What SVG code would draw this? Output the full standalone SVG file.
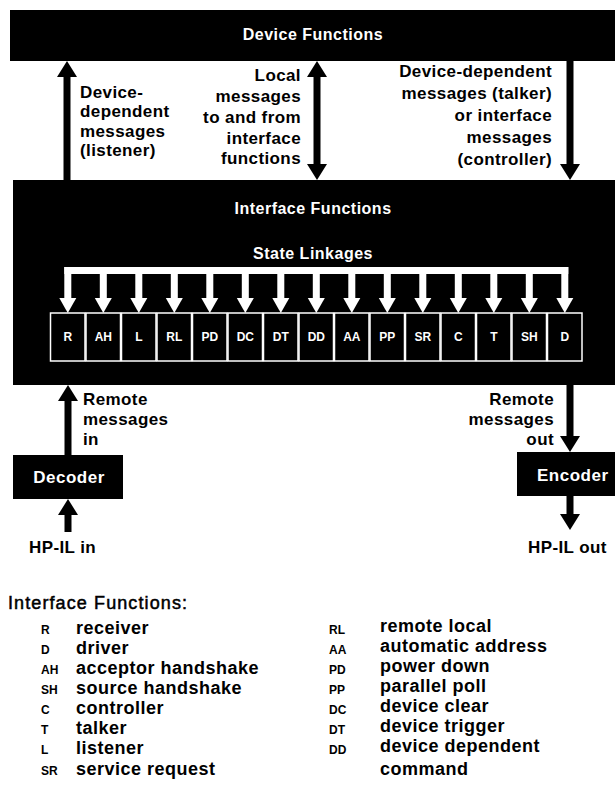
<svg xmlns="http://www.w3.org/2000/svg" width="615" height="811" viewBox="0 0 615 811">
<style>
text{font-family:"Liberation Sans",Arial,Helvetica,sans-serif;font-weight:bold}
.lbl{font-size:17px;fill:#000;letter-spacing:0.4px}
.title{font-size:16px;fill:#fff;letter-spacing:0.5px}
.btitle{font-size:17px;fill:#fff;letter-spacing:0.5px}
.box{fill:#000}
.fbox{fill:#000;stroke:#fff;stroke-width:1.5}
.ftxt{font-size:12px;fill:#fff;text-anchor:middle}
.shaft{stroke:#000;stroke-width:7;fill:none}
.wshaft{fill:#fff}
.abbr{font-size:12px;fill:#000}
.desc{font-size:18px;fill:#000;letter-spacing:0.5px}
.head{font-size:18px;fill:#000;letter-spacing:1.1px;font-weight:normal;stroke:#000;stroke-width:0.5}
.end{text-anchor:end}
.mid{text-anchor:middle}
</style>
<defs>
<marker id="ah" markerUnits="userSpaceOnUse" markerWidth="17" markerHeight="20" refX="8" refY="10" orient="auto-start-reverse" viewBox="0 0 17 20">
<path d="M0,0 L16,10 L0,20 z" fill="#000"/>
</marker>
<path id="wh" d="M-8.5,0 L8.5,0 L0,15 z" fill="#fff"/>
</defs>

<g id="device-functions">
<rect class="box" x="10" y="10" width="605" height="51"/>
<text class="title mid" x="313" y="40">Device Functions</text>
</g>

<g id="interface-functions">
<rect class="box" x="13" y="180" width="602" height="205"/>
<text class="title mid" x="313" y="214">Interface Functions</text>
<text class="title mid" x="313" y="259">State Linkages</text>
</g>

<g id="state-linkages">
<rect class="wshaft" x="64.3" y="267" width="504" height="7"/>
<rect class="wshaft" x="64.3" y="267" width="7" height="33"/>
<rect class="wshaft" x="99.8" y="267" width="7" height="33"/>
<rect class="wshaft" x="135.3" y="267" width="7" height="33"/>
<rect class="wshaft" x="170.8" y="267" width="7" height="33"/>
<rect class="wshaft" x="206.3" y="267" width="7" height="33"/>
<rect class="wshaft" x="241.8" y="267" width="7" height="33"/>
<rect class="wshaft" x="277.3" y="267" width="7" height="33"/>
<rect class="wshaft" x="312.8" y="267" width="7" height="33"/>
<rect class="wshaft" x="348.3" y="267" width="7" height="33"/>
<rect class="wshaft" x="383.8" y="267" width="7" height="33"/>
<rect class="wshaft" x="419.3" y="267" width="7" height="33"/>
<rect class="wshaft" x="454.8" y="267" width="7" height="33"/>
<rect class="wshaft" x="490.3" y="267" width="7" height="33"/>
<rect class="wshaft" x="525.8" y="267" width="7" height="33"/>
<rect class="wshaft" x="561.3" y="267" width="7" height="33"/>
<use href="#wh" x="67.8" y="298"/>
<use href="#wh" x="103.3" y="298"/>
<use href="#wh" x="138.8" y="298"/>
<use href="#wh" x="174.3" y="298"/>
<use href="#wh" x="209.8" y="298"/>
<use href="#wh" x="245.3" y="298"/>
<use href="#wh" x="280.8" y="298"/>
<use href="#wh" x="316.3" y="298"/>
<use href="#wh" x="351.8" y="298"/>
<use href="#wh" x="387.3" y="298"/>
<use href="#wh" x="422.8" y="298"/>
<use href="#wh" x="458.3" y="298"/>
<use href="#wh" x="493.8" y="298"/>
<use href="#wh" x="529.3" y="298"/>
<use href="#wh" x="564.8" y="298"/>
</g>

<g id="fn-R"><rect class="fbox" x="50.5" y="313" width="34.5" height="48"/><text class="ftxt" x="67.8" y="341">R</text></g>
<g id="fn-AH"><rect class="fbox" x="86" y="313" width="34.5" height="48"/><text class="ftxt" x="103.3" y="341">AH</text></g>
<g id="fn-L"><rect class="fbox" x="121.5" y="313" width="34.5" height="48"/><text class="ftxt" x="138.8" y="341">L</text></g>
<g id="fn-RL"><rect class="fbox" x="157" y="313" width="34.5" height="48"/><text class="ftxt" x="174.3" y="341">RL</text></g>
<g id="fn-PD"><rect class="fbox" x="192.5" y="313" width="34.5" height="48"/><text class="ftxt" x="209.8" y="341">PD</text></g>
<g id="fn-DC"><rect class="fbox" x="228" y="313" width="34.5" height="48"/><text class="ftxt" x="245.3" y="341">DC</text></g>
<g id="fn-DT"><rect class="fbox" x="263.5" y="313" width="34.5" height="48"/><text class="ftxt" x="280.8" y="341">DT</text></g>
<g id="fn-DD"><rect class="fbox" x="299" y="313" width="34.5" height="48"/><text class="ftxt" x="316.3" y="341">DD</text></g>
<g id="fn-AA"><rect class="fbox" x="334.5" y="313" width="34.5" height="48"/><text class="ftxt" x="351.8" y="341">AA</text></g>
<g id="fn-PP"><rect class="fbox" x="370" y="313" width="34.5" height="48"/><text class="ftxt" x="387.3" y="341">PP</text></g>
<g id="fn-SR"><rect class="fbox" x="405.5" y="313" width="34.5" height="48"/><text class="ftxt" x="422.8" y="341">SR</text></g>
<g id="fn-C"><rect class="fbox" x="441" y="313" width="34.5" height="48"/><text class="ftxt" x="458.3" y="341">C</text></g>
<g id="fn-T"><rect class="fbox" x="476.5" y="313" width="34.5" height="48"/><text class="ftxt" x="493.8" y="341">T</text></g>
<g id="fn-SH"><rect class="fbox" x="512" y="313" width="34.5" height="48"/><text class="ftxt" x="529.3" y="341">SH</text></g>
<g id="fn-D"><rect class="fbox" x="547.5" y="313" width="34.5" height="48"/><text class="ftxt" x="564.8" y="341">D</text></g>

<g id="decoder">
<rect class="box" x="13" y="455" width="110" height="44"/>
<text class="btitle mid" x="69" y="483">Decoder</text>
</g>

<g id="encoder">
<rect class="box" x="517" y="452" width="98" height="44"/>
<text class="btitle" x="537" y="481">Encoder</text>
</g>

<g id="connectors">
<line class="shaft" x1="67" y1="180" x2="67" y2="69" marker-end="url(#ah)"/>
<line class="shaft" x1="317" y1="172" x2="317" y2="69" marker-start="url(#ah)" marker-end="url(#ah)"/>
<line class="shaft" x1="570" y1="61" x2="570" y2="172" marker-end="url(#ah)"/>
<line class="shaft" x1="68" y1="455" x2="68" y2="393" marker-end="url(#ah)"/>
<line class="shaft" x1="570" y1="385" x2="570" y2="444" marker-end="url(#ah)"/>
<line class="shaft" x1="68" y1="532" x2="68" y2="507" marker-end="url(#ah)"/>
<line class="shaft" x1="570" y1="496" x2="570" y2="522" marker-end="url(#ah)"/>
</g>

<g id="labels">
<text class="lbl" x="80" y="98">Device-</text>
<text class="lbl" x="80" y="117">dependent</text>
<text class="lbl" x="80" y="137">messages</text>
<text class="lbl" x="80" y="156">(listener)</text>

<text class="lbl end" x="301" y="81">Local</text>
<text class="lbl end" x="301" y="102">messages</text>
<text class="lbl end" x="301" y="123">to and from</text>
<text class="lbl end" x="301" y="144">interface</text>
<text class="lbl end" x="301" y="164">functions</text>

<text class="lbl end" x="552" y="77">Device-dependent</text>
<text class="lbl end" x="552" y="99">messages (talker)</text>
<text class="lbl end" x="552" y="121">or interface</text>
<text class="lbl end" x="552" y="143">messages</text>
<text class="lbl end" x="552" y="165">(controller)</text>

<text class="lbl" x="83" y="405">Remote</text>
<text class="lbl" x="83" y="425">messages</text>
<text class="lbl" x="83" y="445">in</text>

<text class="lbl end" x="554" y="405">Remote</text>
<text class="lbl end" x="554" y="425">messages</text>
<text class="lbl end" x="554" y="445">out</text>

<text class="lbl" x="29" y="553">HP-IL in</text>
<text class="lbl" x="528" y="553">HP-IL out</text>
</g>

<g id="legend">
<text class="head" x="8" y="609">Interface Functions:</text>
<text class="abbr" x="41" y="634">R</text><text class="desc" x="76" y="634">receiver</text>
<text class="abbr" x="41" y="654">D</text><text class="desc" x="76" y="654">driver</text>
<text class="abbr" x="41" y="674">AH</text><text class="desc" x="76" y="674">acceptor handshake</text>
<text class="abbr" x="41" y="694">SH</text><text class="desc" x="76" y="694">source handshake</text>
<text class="abbr" x="41" y="714">C</text><text class="desc" x="76" y="714">controller</text>
<text class="abbr" x="41" y="734">T</text><text class="desc" x="76" y="734">talker</text>
<text class="abbr" x="41" y="754">L</text><text class="desc" x="76" y="754">listener</text>
<text class="abbr" x="41" y="775">SR</text><text class="desc" x="76" y="775">service request</text>

<text class="abbr" x="329" y="634">RL</text><text class="desc" x="380" y="632">remote local</text>
<text class="abbr" x="329" y="654">AA</text><text class="desc" x="380" y="652">automatic address</text>
<text class="abbr" x="329" y="674">PD</text><text class="desc" x="380" y="672">power down</text>
<text class="abbr" x="329" y="694">PP</text><text class="desc" x="380" y="692">parallel poll</text>
<text class="abbr" x="329" y="714">DC</text><text class="desc" x="380" y="712">device clear</text>
<text class="abbr" x="329" y="734">DT</text><text class="desc" x="380" y="732">device trigger</text>
<text class="abbr" x="329" y="754">DD</text><text class="desc" x="380" y="752">device dependent</text>
<text class="desc" x="380" y="775">command</text>
</g>
</svg>
